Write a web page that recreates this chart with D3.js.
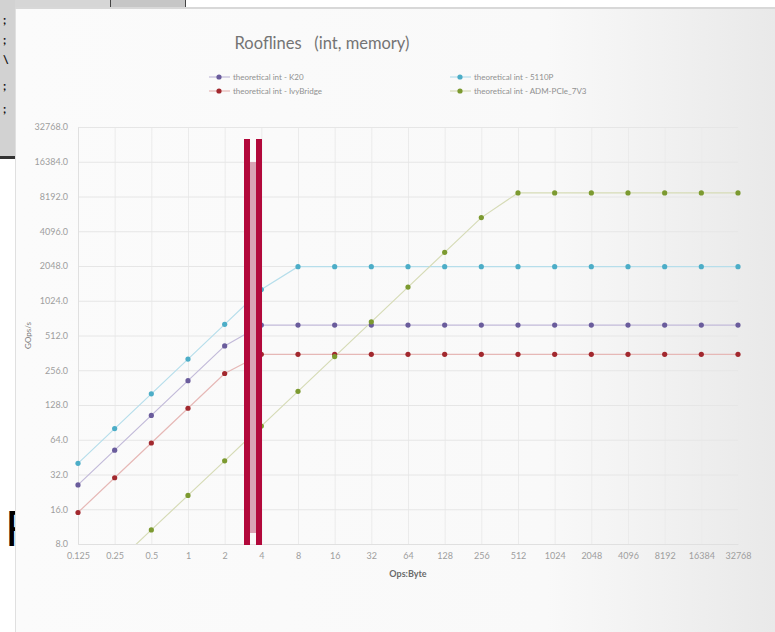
<!DOCTYPE html>
<html>
<head>
<meta charset="utf-8">
<script src="https://cdn.jsdelivr.net/npm/d3@7"></script>
<style>
  body { margin: 0; background: #fff; }
  svg { display: block; }
  text { font-family: Lato, "Open Sans", sans-serif; }
</style>
</head>
<body>
<script>
const width = 775
const height = 632

const categories = ['0.125', '0.25', '0.5', '1', '2', '4', '8', '16', '32', '64', '128',
  '256', '512', '1024', '2048', '4096', '8192', '16384', '32768']
const yTicks = [8, 16, 32, 64, 128, 256, 512, 1024, 2048, 4096, 8192, 16384, 32768]

const k20 = [26, 52, 104, 208, 416, 630, 630, 630, 630, 630, 630, 630, 630, 630, 630, 630, 630, 630, 630]
const phi5110 = [40, 80, 160, 320, 640, 1280, 2022, 2022, 2022, 2022, 2022, 2022, 2022, 2022, 2022, 2022, 2022, 2022, 2022]
const ivyBridge = [15, 30, 60, 120, 240, 352, 352, 352, 352, 352, 352, 352, 352, 352, 352, 352, 352, 352, 352]
const admPcie = [2.6, 5.3, 10.6, 21.1, 42, 84, 168, 336, 672, 1344, 2688, 5376, 8800, 8800, 8800, 8800, 8800, 8800, 8800]

const series = [
  { name: 'theoretical int - K20', values: k20, dot: '#6a5c9c', line: '#c2bad9' },
  { name: 'theoretical int - 5110P', values: phi5110, dot: '#4cadc7', line: '#b6deeb' },
  { name: 'theoretical int - IvyBridge', values: ivyBridge, dot: '#a2282e', line: '#e6b8b6' },
  { name: 'theoretical int - ADM-PCIe_7V3', values: admPcie, dot: '#7c9a30', line: '#d6dbb6' }
]

const plot = { left: 78, right: 738, top: 127, bottom: 544 }

const svg = d3.select('body').append('svg')
  .attr('width', width)
  .attr('height', height)

const defs = svg.append('defs')
const grad = defs.append('linearGradient').attr('id', 'panelGrad')
  .attr('x1', '0').attr('x2', '1').attr('y1', '0').attr('y2', '0')
grad.append('stop').attr('offset', '0').attr('stop-color', '#fbfbfb')
grad.append('stop').attr('offset', '0.7').attr('stop-color', '#f9f9f9')
grad.append('stop').attr('offset', '1').attr('stop-color', '#e9e9e9')
defs.append('clipPath').attr('id', 'plotClip')
  .append('rect')
  .attr('x', plot.left - 4).attr('y', plot.top - 4)
  .attr('width', plot.right - plot.left + 8).attr('height', plot.bottom - plot.top + 4)
defs.append('clipPath').attr('id', 'stripClip')
  .append('rect').attr('x', 0).attr('y', 0).attr('width', 15).attr('height', height)

// background of the screenshot
svg.append('rect').attr('width', width).attr('height', height).attr('fill', '#fff')
svg.append('rect').attr('x', 0).attr('y', 0).attr('width', 110).attr('height', 8).attr('fill', '#d6d6d6')
svg.append('rect').attr('x', 110).attr('y', 0).attr('width', 75).attr('height', 8).attr('fill', '#c6c6c6')
svg.append('line').attr('x1', 110.5).attr('x2', 110.5).attr('y1', 0).attr('y2', 8).attr('stroke', '#444')
svg.append('line').attr('x1', 185.5).attr('x2', 185.5).attr('y1', 0).attr('y2', 8).attr('stroke', '#444')
svg.append('rect').attr('x', 0).attr('y', 0).attr('width', 15).attr('height', 157).attr('fill', '#d2d2d2')
svg.append('rect').attr('x', 0).attr('y', 156).attr('width', 15).attr('height', 3).attr('fill', '#333')

const stripChars = [[';', 24], [';', 44], ['\\', 64], [';', 90], [';', 113]]
svg.selectAll('text.strip').data(stripChars).enter().append('text')
  .attr('class', 'strip')
  .attr('x', 3).attr('y', d => d[1])
  .attr('font-family', 'DejaVu Sans Mono')
  .attr('font-weight', 'bold')
  .attr('font-size', 12)
  .attr('fill', '#111')
  .text(d => d[0])

svg.append('text')
  .attr('clip-path', 'url(#stripClip)')
  .attr('x', 5).attr('y', 546)
  .attr('font-family', 'Liberation Sans')
  .attr('font-size', 48)
  .attr('fill', '#000')
  .text('F')

// chart panel
svg.append('rect').attr('x', 15).attr('y', 7).attr('width', width - 15).attr('height', 2).attr('fill', '#d8d8d8')
svg.append('rect').attr('x', 15).attr('y', 9).attr('width', width - 15).attr('height', height - 9)
  .attr('fill', 'url(#panelGrad)')
svg.append('line').attr('x1', 15.5).attr('x2', 15.5).attr('y1', 9).attr('y2', height)
  .attr('stroke', '#e0e0e0')

const xScale = d3.scalePoint().domain(categories).range([plot.left, plot.right])
const yScale = d3.scaleLog().base(2).domain([8, 32768]).range([plot.bottom, plot.top])

// gridlines
svg.append('g')
  .attr('transform', `translate(0, ${plot.bottom})`)
  .call(d3.axisBottom(xScale).tickSize(-(plot.bottom - plot.top)).tickFormat(''))
  .call(g => g.select('.domain').remove())
  .call(g => g.selectAll('line').attr('stroke', '#ebebeb'))
svg.append('g')
  .attr('transform', `translate(${plot.left}, 0)`)
  .call(d3.axisLeft(yScale).tickValues(yTicks).tickSize(-(plot.right - plot.left)).tickFormat(''))
  .call(g => g.select('.domain').remove())
  .call(g => g.selectAll('line').attr('stroke', '#e6e6e6'))

// axes labels
svg.append('g')
  .attr('transform', `translate(${plot.left}, 0)`)
  .call(d3.axisLeft(yScale).tickValues(yTicks).tickSize(0).tickPadding(10).tickFormat(d => d.toFixed(1)))
  .call(g => g.select('.domain').attr('stroke', '#e0e0e0'))
  .call(g => g.selectAll('text').attr('fill', '#9e9e9e').attr('font-size', 9)
    .attr('font-family', 'Lato, sans-serif'))
svg.append('g')
  .attr('transform', `translate(0, ${plot.bottom})`)
  .call(d3.axisBottom(xScale).tickSize(0).tickPadding(9))
  .call(g => g.select('.domain').attr('stroke', '#e0e0e0'))
  .call(g => g.selectAll('text').attr('fill', '#9e9e9e').attr('font-size', 9)
    .attr('font-family', 'Lato, sans-serif'))

svg.append('text')
  .attr('x', (plot.left + plot.right) / 2).attr('y', 577)
  .attr('text-anchor', 'middle')
  .attr('font-size', 9).attr('font-weight', 'bold').attr('fill', '#6a6a6a')
  .text('Ops:Byte')
svg.append('text')
  .attr('transform', `translate(31, ${(plot.top + plot.bottom) / 2}) rotate(-90)`)
  .attr('text-anchor', 'middle')
  .attr('font-size', 8).attr('fill', '#7a7a7a')
  .text('GOps/s')

// title
svg.append('text')
  .attr('x', 322).attr('y', 49)
  .attr('text-anchor', 'middle')
  .attr('font-size', 16.5).attr('fill', '#747474')
  .style('white-space', 'pre')
  .text('Rooflines   (int, memory)')

// series
const line = d3.line()
  .x((d, i) => xScale(categories[i]))
  .y(d => yScale(d))

const marks = svg.append('g').attr('clip-path', 'url(#plotClip)')
series.forEach(s => {
  marks.append('path')
    .datum(s.values)
    .attr('d', line)
    .attr('fill', 'none')
    .attr('stroke', s.line)
    .attr('stroke-width', 1.2)
})
series.forEach(s => {
  const pts = s.values.map((v, i) => ({ v, c: categories[i] })).filter(d => d.v >= 8)
  marks.selectAll(null)
    .data(pts)
    .enter().append('circle')
    .attr('cx', d => xScale(d.c))
    .attr('cy', d => yScale(d.v))
    .attr('r', 2.6)
    .attr('fill', s.dot)
})

// legend
const legendPos = [[209, 77], [450, 77], [209, 91], [450, 91]]
series.forEach((s, i) => {
  const [lx, ly] = legendPos[i]
  const g = svg.append('g').attr('transform', `translate(${lx}, ${ly})`)
  g.append('line').attr('x1', 0).attr('x2', 21).attr('y1', 0).attr('y2', 0)
    .attr('stroke', s.line).attr('stroke-width', 1.2)
  g.append('circle').attr('cx', 10).attr('cy', 0).attr('r', 2.6).attr('fill', s.dot)
  g.append('text').attr('x', 24).attr('y', 3)
    .attr('font-size', 8).attr('fill', '#909090')
    .text(s.name)
})

// red marker bars drawn over the slide
svg.append('rect').attr('x', 250).attr('y', 162).attr('width', 6).attr('height', 371).attr('fill', '#d9a3b4')
svg.append('rect').attr('x', 244).attr('y', 139).attr('width', 6).attr('height', 406).attr('fill', '#b2093b')
svg.append('rect').attr('x', 256).attr('y', 139).attr('width', 6).attr('height', 406).attr('fill', '#b2093b')
</script>
</body>
</html>
